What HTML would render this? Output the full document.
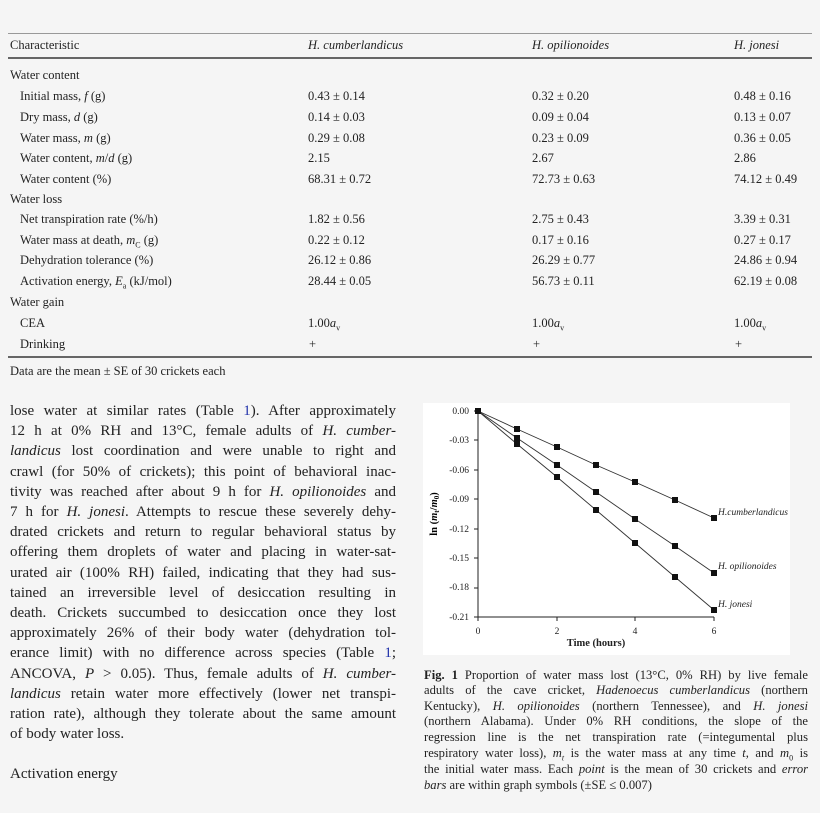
<!DOCTYPE html>
<html><head><meta charset="utf-8"><style>
body{margin:0;background:#f5f5f5;width:820px;height:813px;overflow:hidden;font-family:"Liberation Serif",serif;color:#222;position:relative}
.a{position:absolute;white-space:nowrap;line-height:1}
.t{font-size:12.5px}
.ln{position:absolute;left:10px;width:386px;font-size:15px;line-height:1;text-align:justify;text-align-last:justify;white-space:nowrap}
.cap{position:absolute;left:424px;width:384px;font-size:12.6px;line-height:1;text-align:justify;text-align-last:justify;white-space:nowrap}
.rule{position:absolute;left:8px;width:804px;background:#666}
</style></head><body>
<div class="rule" style="top:33px;height:1px;background:#999"></div>
<div class="a t" style="left:10px;top:39px">Characteristic</div>
<div class="a t" style="left:308px;top:39px"><i>H. cumberlandicus</i></div>
<div class="a t" style="left:532px;top:39px"><i>H. opilionoides</i></div>
<div class="a t" style="left:734px;top:39px"><i>H. jonesi</i></div>
<div class="rule" style="top:57px;height:2px"></div>

<div class="a t" style="left:10px;top:69px">Water content</div>
<div class="a t" style="left:20px;top:90px">Initial mass, <i>f</i> (g)</div>
<div class="a t" style="left:308px;top:90px">0.43 ± 0.14</div><div class="a t" style="left:532px;top:90px">0.32 ± 0.20</div><div class="a t" style="left:734px;top:90px">0.48 ± 0.16</div>
<div class="a t" style="left:20px;top:111px">Dry mass, <i>d</i> (g)</div>
<div class="a t" style="left:308px;top:111px">0.14 ± 0.03</div><div class="a t" style="left:532px;top:111px">0.09 ± 0.04</div><div class="a t" style="left:734px;top:111px">0.13 ± 0.07</div>
<div class="a t" style="left:20px;top:132px">Water mass, <i>m</i> (g)</div>
<div class="a t" style="left:308px;top:132px">0.29 ± 0.08</div><div class="a t" style="left:532px;top:132px">0.23 ± 0.09</div><div class="a t" style="left:734px;top:132px">0.36 ± 0.05</div>
<div class="a t" style="left:20px;top:152px">Water content, <i>m</i>/<i>d</i> (g)</div>
<div class="a t" style="left:308px;top:152px">2.15</div><div class="a t" style="left:532px;top:152px">2.67</div><div class="a t" style="left:734px;top:152px">2.86</div>
<div class="a t" style="left:20px;top:173px">Water content (%)</div>
<div class="a t" style="left:308px;top:173px">68.31 ± 0.72</div><div class="a t" style="left:532px;top:173px">72.73 ± 0.63</div><div class="a t" style="left:734px;top:173px">74.12 ± 0.49</div>
<div class="a t" style="left:10px;top:193px">Water loss</div>
<div class="a t" style="left:20px;top:213px">Net transpiration rate (%/h)</div>
<div class="a t" style="left:308px;top:213px">1.82 ± 0.56</div><div class="a t" style="left:532px;top:213px">2.75 ± 0.43</div><div class="a t" style="left:734px;top:213px">3.39 ± 0.31</div>
<div class="a t" style="left:20px;top:234px">Water mass at death, <i>m</i><sub style="font-size:8px">C</sub> (g)</div>
<div class="a t" style="left:308px;top:234px">0.22 ± 0.12</div><div class="a t" style="left:532px;top:234px">0.17 ± 0.16</div><div class="a t" style="left:734px;top:234px">0.27 ± 0.17</div>
<div class="a t" style="left:20px;top:254px">Dehydration tolerance (%)</div>
<div class="a t" style="left:308px;top:254px">26.12 ± 0.86</div><div class="a t" style="left:532px;top:254px">26.29 ± 0.77</div><div class="a t" style="left:734px;top:254px">24.86 ± 0.94</div>
<div class="a t" style="left:20px;top:275px">Activation energy, <i>E</i><sub style="font-size:8px">a</sub> (kJ/mol)</div>
<div class="a t" style="left:308px;top:275px">28.44 ± 0.05</div><div class="a t" style="left:532px;top:275px">56.73 ± 0.11</div><div class="a t" style="left:734px;top:275px">62.19 ± 0.08</div>
<div class="a t" style="left:10px;top:296px">Water gain</div>
<div class="a t" style="left:20px;top:317px">CEA</div>
<div class="a t" style="left:308px;top:317px">1.00<i>a</i><sub style="font-size:8px">v</sub></div><div class="a t" style="left:532px;top:317px">1.00<i>a</i><sub style="font-size:8px">v</sub></div><div class="a t" style="left:734px;top:317px">1.00<i>a</i><sub style="font-size:8px">v</sub></div>
<div class="a t" style="left:20px;top:338px">Drinking</div>
<div class="a t" style="left:309px;top:338px">+</div><div class="a t" style="left:533px;top:338px">+</div><div class="a t" style="left:735px;top:338px">+</div>
<div class="rule" style="top:356px;height:2px"></div>
<div class="a t" style="left:10px;top:365px">Data are the mean ± SE of 30 crickets each</div>

<div class="ln" style="top:404px">lose water at similar rates (Table <span style="color:#2233aa">1</span>). After approximately</div>
<div class="ln" style="top:424px">12 h at 0% RH and 13°C, female adults of <i>H. cumber-</i></div>
<div class="ln" style="top:444px"><i>landicus</i> lost coordination and were unable to right and</div>
<div class="ln" style="top:465px">crawl (for 50% of crickets); this point of behavioral inac-</div>
<div class="ln" style="top:485px">tivity was reached after about 9 h for <i>H. opilionoides</i> and</div>
<div class="ln" style="top:505px">7 h for <i>H. jonesi</i>. Attempts to rescue these severely dehy-</div>
<div class="ln" style="top:525px">drated crickets and return to regular behavioral status by</div>
<div class="ln" style="top:545px">offering them droplets of water and placing in water-sat-</div>
<div class="ln" style="top:566px">urated air (100% RH) failed, indicating that they had sus-</div>
<div class="ln" style="top:586px">tained an irreversible level of desiccation resulting in</div>
<div class="ln" style="top:606px">death. Crickets succumbed to desiccation once they lost</div>
<div class="ln" style="top:626px">approximately 26% of their body water (dehydration tol-</div>
<div class="ln" style="top:646px">erance limit) with no difference across species (Table <span style="color:#2233aa">1</span>;</div>
<div class="ln" style="top:667px">ANCOVA, <i>P</i> &gt; 0.05). Thus, female adults of <i>H. cumber-</i></div>
<div class="ln" style="top:687px"><i>landicus</i> retain water more effectively (lower net transpi-</div>
<div class="ln" style="top:707px">ration rate), although they tolerate about the same amount</div>
<div class="ln" style="top:727px;text-align-last:left">of body water loss.</div>
<div class="ln" style="top:767px;text-align-last:left">Activation energy</div>

<svg style="position:absolute;left:0;top:0" width="820" height="813">
<rect x="423" y="403" width="367" height="252" fill="#fff"/>
<g font-family="Liberation Serif" font-size="9.5" fill="#222" text-anchor="end">
<text x="469" y="414">0.00</text><text x="469" y="443">-0.03</text><text x="469" y="473">-0.06</text><text x="469" y="502">-0.09</text><text x="469" y="532">-0.12</text><text x="469" y="561">-0.15</text><text x="469" y="590">-0.18</text><text x="469" y="620">-0.21</text>
</g>
<g font-family="Liberation Serif" font-size="9.5" fill="#222" text-anchor="middle">
<text x="478" y="634">0</text><text x="557" y="634">2</text><text x="635" y="634">4</text><text x="714" y="634">6</text>
<text x="596" y="646" font-weight="bold" font-size="10.5">Time (hours)</text>
</g>
<text transform="translate(437,514) rotate(-90)" font-family="Liberation Serif" font-size="10.5" font-weight="bold" text-anchor="middle">ln (<tspan font-style="italic">m</tspan><tspan font-size="7" dy="2">t</tspan><tspan dy="-2">/</tspan><tspan font-style="italic">m</tspan><tspan font-size="7" dy="2">0</tspan><tspan dy="-2">)</tspan></text>
<g stroke="#222" stroke-width="1">
<line x1="478" y1="410" x2="478" y2="617"/><line x1="478" y1="617" x2="714" y2="617"/>
<path d="M474 411h4M474 440h4M474 470h4M474 499h4M474 529h4M474 558h4M474 588h4M474 617h4M557 617v4M635 617v4M714 617v4M478 617v4"/>
</g>
<g fill="none" stroke="#333" stroke-width="0.9">
<polyline points="478,411 517,429 557,447 596,465 635,482 675,500 714,518"/>
<polyline points="478,411 517,438 557,465 596,492 635,519 675,546 714,573"/>
<polyline points="478,411 517,444 557,477 596,510 635,543 675,577 714,610"/>
</g>
<g fill="#111">
<rect x="475" y="408" width="6" height="6"/>
<rect x="514" y="426" width="6" height="6"/><rect x="554" y="444" width="6" height="6"/><rect x="593" y="462" width="6" height="6"/><rect x="632" y="479" width="6" height="6"/><rect x="672" y="497" width="6" height="6"/><rect x="711" y="515" width="6" height="6"/>
<rect x="514" y="435" width="6" height="6"/><rect x="554" y="462" width="6" height="6"/><rect x="593" y="489" width="6" height="6"/><rect x="632" y="516" width="6" height="6"/><rect x="672" y="543" width="6" height="6"/><rect x="711" y="570" width="6" height="6"/>
<rect x="514" y="441" width="6" height="6"/><rect x="554" y="474" width="6" height="6"/><rect x="593" y="507" width="6" height="6"/><rect x="632" y="540" width="6" height="6"/><rect x="672" y="574" width="6" height="6"/><rect x="711" y="607" width="6" height="6"/>
</g>
<g font-family="Liberation Serif" font-size="9.5" font-style="italic" fill="#222">
<text x="718" y="515">H.cumberlandicus</text>
<text x="718" y="569">H. opilionoides</text>
<text x="718" y="607">H. jonesi</text>
</g>
</svg>

<div class="cap" style="top:669px"><b>Fig. 1</b> Proportion of water mass lost (13°C, 0% RH) by live female</div>
<div class="cap" style="top:684px">adults of the cave cricket, <i>Hadenoecus cumberlandicus</i> (northern</div>
<div class="cap" style="top:700px">Kentucky), <i>H. opilionoides</i> (northern Tennessee), and <i>H. jonesi</i></div>
<div class="cap" style="top:715px">(northern Alabama). Under 0% RH conditions, the slope of the</div>
<div class="cap" style="top:731px">regression line is the net transpiration rate (=integumental plus</div>
<div class="cap" style="top:747px">respiratory water loss), <i>m<sub style="font-size:8px">t</sub></i> is the water mass at any time <i>t</i>, and <i>m</i><sub style="font-size:8px">0</sub> is</div>
<div class="cap" style="top:763px">the initial water mass. Each <i>point</i> is the mean of 30 crickets and <i>error</i></div>
<div class="cap" style="top:779px;text-align-last:left"><i>bars</i> are within graph symbols (±SE ≤ 0.007)</div>
</body></html>
